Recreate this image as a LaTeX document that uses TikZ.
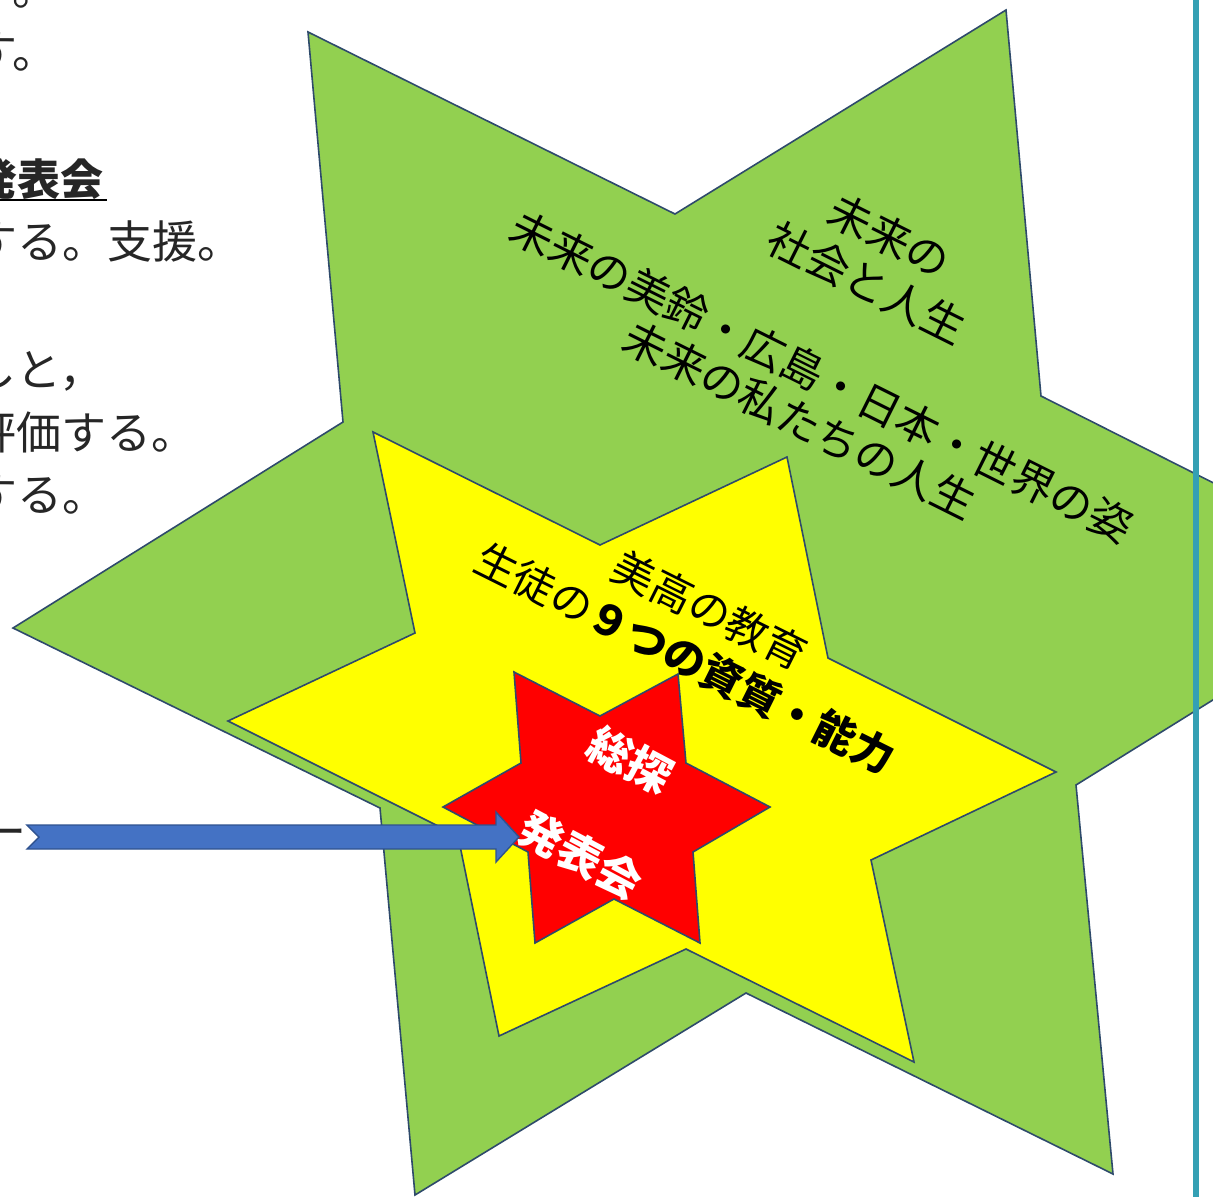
\documentclass[tikz,border=0pt]{standalone}
\usepackage{fontspec}
\setmainfont{Noto Sans CJK JP}
\definecolor{gfill}{HTML}{92D050}
\definecolor{yfill}{HTML}{FFFF00}
\definecolor{rfill}{HTML}{FF0000}
\definecolor{staredge}{HTML}{2E4A6B}
\definecolor{arrowfill}{HTML}{4472C4}
\definecolor{arrowedge}{HTML}{2F528F}
\definecolor{rulecol}{HTML}{34A0B4}
\begin{document}
\begin{tikzpicture}[x=1pt,y=-1pt,
  starshape/.style={draw=staredge, line width=1.6pt, line join=miter},
  doctext/.style={anchor=base west, inner sep=0pt, text=black!85, font=\fontsize{45}{50}\selectfont},
  greentext/.style={anchor=center, inner sep=0pt, rotate=-26.5, text=black, font=\fontsize{43}{48}\selectfont},
  yellowtext/.style={anchor=center, inner sep=0pt, rotate=-26.5, text=black, font=\fontsize{42}{48}\selectfont},
  redtext/.style={anchor=center, inner sep=0pt, rotate=-28, text=white, font=\fontsize{44}{48}\selectfont\bfseries}]
\useasboundingbox (0,0) rectangle (1213,1197);
\clip (0,0) rectangle (1213,1197);
\fill[white] (0,0) rectangle (1213,1197);

% document text fragments on the left
\node[doctext] (ta) at (-28,5) {す。};
\node[doctext] (tb) at (-28,68) {す。};
\node[doctext, font=\fontsize{43}{50}\selectfont\bfseries] (tc) at (-26,195) {発表会};
\draw[black, line width=2pt] (0,200) -- (107,200);
\node[doctext] (td) at (-28,258) {する。支援。};
\node[doctext] (te) at (-29,386) {しと，};
\node[doctext] (tf) at (-29,449) {評価する。};
\node[doctext] (tg) at (-28,511) {する。};
\node[doctext] (th) at (-19,848) {ー};

% green star
\filldraw[starshape, fill=gfill]
  (308,32) -- (675,214) -- (1006,10) -- (1041,396) -- (1406,580) -- (1076,785)
  -- (1113,1174) -- (746,993) -- (415,1195) -- (380,808) -- (13,628) -- (343,422) -- cycle;
\node[greentext] (g1) at (890,236) {未来の};
\node[greentext] (g2) at (867,283) {社会と人生};
\node[greentext] (g3) at (822,377) {未来の美鈴・広島・日本・世界の姿};
\node[greentext] (g4) at (800,420) {未来の私たちの人生};

% yellow star
\filldraw[starshape, fill=yfill]
  (373,432) -- (600,545) -- (787,457) -- (828,658) -- (1056,772) -- (871,860)
  -- (914,1062) -- (686,949) -- (499,1036) -- (458,836) -- (228,721) -- (415,633) -- cycle;
\node[yellowtext] (y1) at (710,610) {美高の教育};
\node[yellowtext] (y2) at (685,658) {生徒の{\bfseries ９つの資質・能力}};

% red star
\filldraw[starshape, fill=rfill]
  (514,672) -- (600,716) -- (678,674) -- (686,763) -- (770,807) -- (693,852)
  -- (700,943) -- (614,899) -- (535,943) -- (528,852) -- (443,807) -- (521,763) -- cycle;
\node[redtext] (r1) at (630,760) {総探};
\node[redtext] (r2) at (581,855) {発表会};

% notched block arrow
\coordinate (atail) at (39,837);
\coordinate (atip) at (519,837);
\filldraw[fill=arrowfill, draw=arrowedge, line width=1.4pt, line join=miter]
  (27,825) -- (496,825) -- (496,812) -- (atip) -- (496,862) -- (496,849) -- (27,849) -- (atail) -- cycle;

% vertical page rule
\fill[rulecol] (1193,0) rectangle (1199,1197);
\end{tikzpicture}
\end{document}
